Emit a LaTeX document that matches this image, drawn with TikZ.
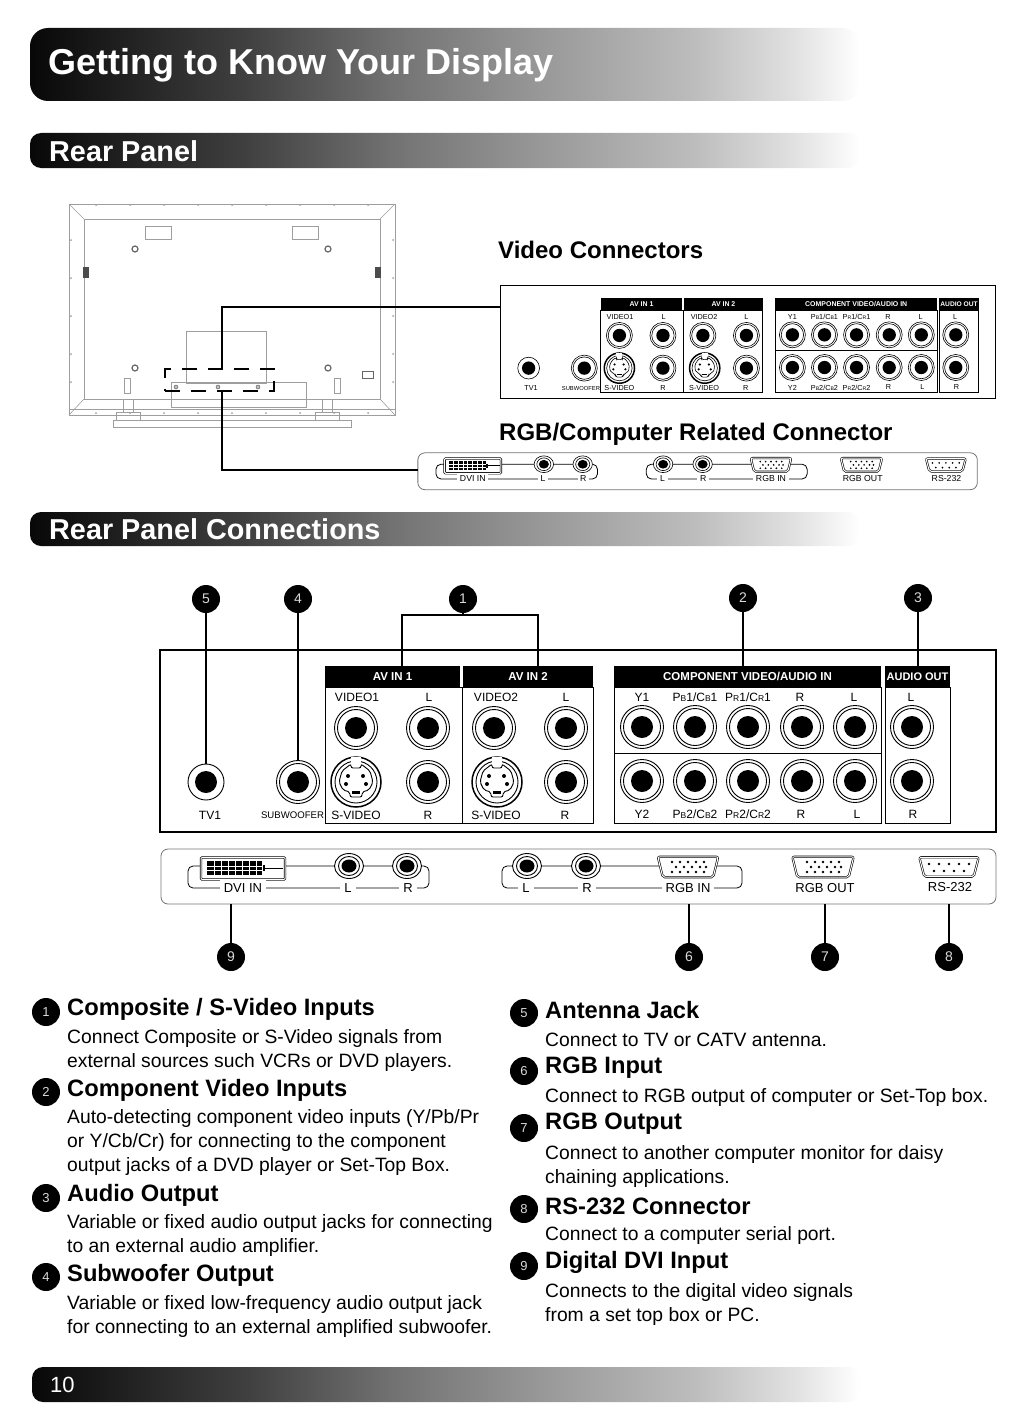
\documentclass[tikz,border=0pt]{standalone}
\usepackage{fontspec}
\setmainfont{Liberation Sans}
\usetikzlibrary{shapes.geometric,calc}
\definecolor{panelgray}{gray}{0.45}
\definecolor{tvgray}{gray}{0.62}
\definecolor{barA}{gray}{0.03}
\definecolor{barB}{gray}{0.10}
\definecolor{barC}{gray}{0.25}
\definecolor{barD}{gray}{0.45}
\definecolor{barE}{gray}{0.60}
\definecolor{barF}{gray}{0.74}
\definecolor{barG}{gray}{0.88}
\pgfdeclarehorizontalshading{barfade}{100bp}{color(0bp)=(barA); color(25bp)=(barA); color(29bp)=(barB); color(38bp)=(barC); color(47bp)=(barD); color(56bp)=(barE); color(65bp)=(barF); color(71bp)=(barG); color(75bp)=(white); color(100bp)=(white)}
\tikzset{
    jackline/.style={line width=0.9pt},
    rcajack/.style={circle, draw, jackline, fill=white, inner sep=0pt, outer sep=0pt, minimum size=43pt},
    tvjack/.style={rcajack, minimum size=36pt},
    svideojack/.style={rcajack, line width=1.5pt, minimum size=50pt},
    sidejack/.style={ellipse, draw, jackline, fill=white, inner sep=0pt, outer sep=0pt, minimum width=29pt, minimum height=25pt},
    headbox/.style={fill=black, text=white, inner sep=0pt, outer sep=0pt, font=\bfseries\fontsize{11.5}{12}\selectfont},
    portlabel/.style={inner sep=0pt, font=\fontsize{12}{12}\selectfont},
    wirelabel/.style={inner sep=4pt, fill=white, font=\fontsize{13}{13}\selectfont},
    dsub/.style={draw, double, double distance=1pt, line width=0.6pt, fill=white, rounded corners=2pt},
    callout/.style={circle, fill=black, text=white!85!black, inner sep=0pt, minimum size=28pt, font=\fontsize{14}{14}\selectfont},
    bullet/.style={circle, fill=black, text=white!85!black, inner sep=0pt, minimum size=28pt, font=\fontsize{13}{13}\selectfont},
    leader/.style={line width=1.7pt},
    barhead/.style={text=white, anchor=west, inner sep=0pt, font=\bfseries\fontsize{28.8}{29}\selectfont},
    itemhead/.style={anchor=west, inner sep=0pt, font=\bfseries\fontsize{23.7}{26}\selectfont},
    itembody/.style={anchor=west, align=left, inner sep=0pt, font=\fontsize{19.3}{24}\selectfont},
    tvline/.style={draw=tvgray, line width=0.6pt}
}
% RCA jack with ring and hole
\newcommand{\rca}[3]{%
    \node[rcajack] (#1) at (#2,#3) {};
    \draw[jackline] (#1.center) circle (18.5);
    \fill[black] (#1.center) circle (11);
}
% S-Video socket
\newcommand{\svideo}[3]{%
    \node[svideojack] (#1) at (#2,#3) {};
    \begin{scope}[shift={(#2,#3)}]
        \draw[jackline] (0,0) circle (21);
        \fill[white] (-5,-25) rectangle (5,-18);
        \draw[jackline, rounded corners=2pt] (-5,-18) -- (-5,-14) -- (5,-14) -- (5,-18) -- (14,-11) -- (17,0) -- (13,8) -- (6,10) -- (6,15) -- (-6,15) -- (-6,10) -- (-13,8) -- (-17,0) -- (-14,-11) -- cycle;
        \foreach \dx/\dy in {-8/-6, 7/-6, -10/2, 10/2} \fill (\dx,\dy) circle (2);
        \fill (-4,9) rectangle (4,11.5);
    \end{scope}
}
% small ellipse jack of the lower strip
\newcommand{\sidersa}[3]{%
    \node[sidejack] (#1) at (#2,#3) {};
    \draw[jackline] (#1.center) ellipse (10.5 and 9.5);
    \fill[black] (#1.center) ellipse (7.5 and 6.5);
}
\newcommand{\pb}[1]{{\fontsize{8.5}{9}\selectfont #1}}
% AV panel, used twice
\newcommand{\avpanel}{%
    \node[headbox, minimum width=135pt, minimum height=21pt] (avone) at (392.5,676.5) {AV IN 1};
    \node[headbox, minimum width=130pt, minimum height=21pt] (avtwo) at (528,676.5) {AV IN 2};
    \node[headbox, minimum width=267pt, minimum height=21pt] (comp) at (747.5,676.5) {COMPONENT VIDEO/AUDIO IN};
    \node[headbox, minimum width=65pt, minimum height=21pt, font=\bfseries\fontsize{11}{12}\selectfont] (audout) at (917.5,676.5) {AUDIO OUT};
    \draw[line width=0.9pt] (325,687) rectangle (593,823);
    \draw[line width=0.9pt] (462,687) -- (462,823);
    \draw[line width=0.9pt] (614,687) rectangle (881,823);
    \draw[line width=0.9pt] (614,753) -- (881,753);
    \draw[line width=0.9pt] (885,687) rectangle (950,823);
    \foreach \nm/\x/\y in {vone/356/728, lone/428/728, vtwo/494/728, ltwo/566/728, rone/428/782, rtwo/566/782, woofer/298/782, yone/642/727, pbone/695/727, prone/748/727, rcomp/802/727, lcomp/855/727, ytwo/642/781, pbtwo/695/781, prtwo/748/781, rcompb/802/781, lcompb/855/781, lout/912/727, rout/912/781}
        {\rca{\nm}{\x}{\y}}
    \node[tvjack] (tv) at (206,782) {};
    \fill[black] (tv.center) circle (11);
    \svideo{svone}{356}{782}
    \svideo{svtwo}{497}{782}
    \foreach \x/\y/\txt in {357/697/VIDEO1, 429/697/L, 496/697/VIDEO2, 566/697/L, 642/697/Y1, 695/697/{P\pb{B}1/C\pb{B}1}, 748/697/{P\pb{R}1/C\pb{R}1}, 800/697/R, 854/697/L, 911/697/L, 356/815/S-VIDEO, 428/815/R, 496/815/S-VIDEO, 565/815/R, 642/814/Y2, 695/814/{P\pb{B}2/C\pb{B}2}, 748/814/{P\pb{R}2/C\pb{R}2}, 801/814/R, 857/814/L, 913/814/R, 210/815/TV1}
        {\node[portlabel] at (\x,\y) {\txt};}
    \node[portlabel, font=\fontsize{9.6}{10}\selectfont] at (292.5,815) {SUBWOOFER};
}
% D-sub shell and its pins
\newcommand{\dsubshell}[6]{%
    \node[inner sep=0pt, minimum width=#4pt, minimum height=#5pt] (#1) at (#2,#3) {};
    \draw[dsub] (#1.north west) -- (#1.north east) -- ($(#1.south east)+(-5,0)$) -- ($(#1.south west)+(5,0)$) -- cycle;
    \foreach \dx/\dy in {#6} \fill (#1.center) ++(\dx,\dy) circle (1.4);
}
% RGB strip, used twice
\newcommand{\rgbstrip}{%
    \node[draw=panelgray, line width=0.8pt, rounded corners=7pt, minimum width=835pt, minimum height=55pt, inner sep=0pt] (strip) at (578.5,876.5) {};
    % wires first, jacks and labels on top
    \draw[line width=0.8pt, rounded corners=5pt] (200,866) -- (188,866) -- (188,888) -- (429,888) -- (429,866) -- (407,866) -- (200,866);
    \draw[line width=0.8pt, rounded corners=5pt] (527,866) -- (502,866) -- (502,888) -- (742,888) -- (742,866) -- (527,866);
    \node[draw, double, double distance=1pt, line width=0.7pt, fill=white, rounded corners=1pt, minimum width=84pt, minimum height=22pt, inner sep=0pt] (dvi) at (243,868.5) {};
    \fill[black] (207,861) rectangle (262,875);
    \foreach \x in {214,221,228,235,242,249,256} \fill[white] (\x,861) rectangle (\x+1,875);
    \foreach \y in {865.5,870} \fill[white] (207,\y) rectangle (262,\y+1);
    \fill[black] (263,865) rectangle (265,871);
    \draw[line width=0.6pt] (265,868) -- (283,868);
    \sidersa{dvil}{349}{866}
    \sidersa{dvir}{407}{866}
    \sidersa{rgbl}{527}{866}
    \sidersa{rgbr}{586}{866}
    \dsubshell{rgbin}{688}{867}{60}{20}{-16/-5,-8/-5,0/-5,8/-5,16/-5,-12/0,-4/0,4/0,12/0,18/0,-16/5,-8/5,0/5,8/5,16/5}
    \dsubshell{rgbout}{823}{867}{61}{20}{-16/-5,-8/-5,0/-5,8/-5,16/-5,-12/0,-4/0,4/0,12/0,18/0,-16/5,-8/5,0/5,8/5,16/5}
    \dsubshell{rs}{949}{867}{59}{19}{-20/-3,-10/-3,0/-3,10/-3,20/-3,-15/4,-5/4,5/4,15/4}
    \foreach \x/\txt in {243/DVI IN, 348/L, 408/R, 526/L, 587/R, 688/RGB IN}
        {\node[wirelabel] at (\x,888) {\txt};}
    \node[wirelabel] at (825,888) {RGB OUT};
    \node[wirelabel] at (950,887) {RS-232};
}
\begin{document}
\begin{tikzpicture}[x=1pt, y=-1pt, >=stealth]
    \useasboundingbox (0,0) rectangle (1034,1418);

    % Title bars
    \shade[shading=barfade, rounded corners=18pt] (30,28) rectangle (860,101);
    \shade[shading=barfade, rounded corners=11pt] (30,133) rectangle (860,168);
    \shade[shading=barfade, rounded corners=11pt] (30,512) rectangle (860,546);
    \shade[shading=barfade, rounded corners=11pt] (32,1367) rectangle (860,1402);
    \node[barhead, font=\bfseries\fontsize{36}{36}\selectfont] (title) at (48,65) {Getting to Know Your Display};
    \node[barhead] (rearhead) at (49,151) {Rear Panel};
    \node[barhead] (connhead) at (49,529) {Rear Panel Connections};
    \node[barhead, font=\fontsize{22}{22}\selectfont] (pagenum) at (50,1385) {10};

    % Display seen from behind
    \draw[tvline] (69,204) rectangle (395,415);
    \draw[tvline] (84,219) rectangle (380,399);
    \draw[tvline] (69,204) -- (84,219);
    \draw[tvline] (395,204) -- (380,219);
    \draw[tvline] (69,415) -- (84,399);
    \draw[tvline] (395,415) -- (380,399);
    \draw[tvline] (69,409) -- (395,409);
    \draw[tvline] (113,420) rectangle (351,427);
    \foreach \x in {116,315}
        {\draw[tvline] (\x,412) rectangle (\x+24,420);
         \draw[tvline] (\x+7,399) rectangle (\x+17,412);}
    \foreach \x in {145,292} \draw[tvline] (\x,226) rectangle (\x+26,239);
    \foreach \x/\y in {135/249, 328/249, 135/368, 328/368}
        {\draw[draw=black!60, line width=1.2pt, fill=white] (\x,\y) circle (3);}
    \foreach \x in {83,375} \fill[black!70] (\x,267) rectangle (\x+6,278);
    \foreach \x in {124,334} \draw[tvline] (\x,378) rectangle (\x+6,393);
    \draw[black!60, line width=0.6pt] (362,371) rectangle (373,378);
    \draw[tvline] (186,331) rectangle (266,383);
    \draw[tvline] (171,382) rectangle (306,407);
    \draw[tvline] (133,399) -- (171,399);
    \draw[tvline] (306,399) -- (333,399);
    \foreach \x in {96,130,164,198,232,266,300,334,368}
        {\fill[tvgray] (\x,205) circle (1); \fill[tvgray] (\x,413) circle (1);}
    \foreach \y in {240,278,316,354,382}
        {\fill[tvgray] (71,\y) circle (1); \fill[tvgray] (393,\y) circle (1);}
    \foreach \x in {176,218,258}
        {\draw[black!70, fill=black!25] (\x,387) circle (2);}

    % Area shown in the panels
    \node[draw, line width=1.7pt, dashed, dash pattern=on 15pt off 11pt, minimum width=109pt, minimum height=22pt, inner sep=0pt] (zone) at (219.5,380) {};
    \coordinate (upperbend) at (222,307);
    \coordinate (lowerbend) at (222,470);

    % Video connectors
    \node[anchor=west, inner sep=0pt, font=\bfseries\fontsize{24}{26}\selectfont] (videohead) at (498,250) {Video Connectors};
    \node[draw, line width=1pt, minimum width=495pt, minimum height=113pt, inner sep=0pt] (miniframe) at (747.5,341.5) {};
    \begin{scope}[name prefix=mini-, shift={(404,-105)}, scale=0.605, transform shape, jackline/.style={line width=0.6pt}]
        \avpanel
    \end{scope}

    % RGB connector
    \node[anchor=west, inner sep=0pt, font=\bfseries\fontsize{24}{26}\selectfont] (rgbhead) at (499,434) {RGB/Computer Related Connector};
    \begin{scope}[name prefix=mini-, shift={(310,-116)}, scale=0.67, transform shape, jackline/.style={line width=0.6pt}]
        \rgbstrip
    \end{scope}
    \draw[leader] (zone.north -| upperbend) -- (upperbend) -- (upperbend -| miniframe.west);
    \draw[leader] (zone.south -| lowerbend) -- (lowerbend) -- (lowerbend -| mini-strip.west);

    % Main panel
    \node[draw, line width=1.8pt, minimum width=836pt, minimum height=182pt, inner sep=0pt] (mainframe) at (578,741) {};
    \avpanel
    \rgbstrip

    % Callouts above the panel
    \node[callout] (call5) at (206,599) {5};
    \node[callout] (call4) at (298,599) {4};
    \node[callout] (call1) at (463,599) {1};
    \node[callout] (call2) at (743,598) {2};
    \node[callout] (call3) at (918,598) {3};
    \coordinate (bracketl) at (402,615);
    \coordinate (bracketr) at (538,615);
    \draw[leader] (call5) -- (tv.north);
    \draw[leader] (call4) -- (woofer.north);
    \draw[leader] (call1) -- (call1 |- bracketl);
    \draw[leader] (bracketl |- avone.north) -- (bracketl) -- (bracketr) -- (bracketr |- avtwo.north);
    \draw[leader] (call2) -- (call2 |- comp.north);
    \draw[leader] (call3) -- (call3 |- audout.north);

    % Callouts below the panel
    \node[callout] (call9) at (231,957) {9};
    \node[callout] (call6) at (689,957) {6};
    \node[callout] (call7) at (825,957) {7};
    \node[callout] (call8) at (949,957) {8};
    \foreach \n in {9,6,7,8}
        {\draw[leader] (call\n) -- (call\n |- strip.south);}

    % Left column
    \node[bullet] (item1) at (46,1012) {1};
    \node[itemhead] (head1) at (67,1009) {Composite / S-Video Inputs};
    \node[itembody] (body1) at (67,1050) {Connect Composite or S-Video signals from\\external sources such VCRs or DVD players.};
    \node[bullet] (item2) at (46,1092) {2};
    \node[itemhead] (head2) at (67,1090) {Component Video Inputs};
    \node[itembody] (body2) at (67,1142) {Auto-detecting component video inputs (Y/Pb/Pr\\or Y/Cb/Cr) for connecting to the component\\output jacks of a DVD player or Set-Top Box.};
    \node[bullet] (item3) at (46,1198) {3};
    \node[itemhead] (head3) at (67,1195) {Audio Output};
    \node[itembody] (body3) at (67,1235) {Variable or fixed audio output jacks for connecting\\to an external audio amplifier.};
    \node[bullet] (item4) at (46,1277) {4};
    \node[itemhead] (head4) at (67,1275) {Subwoofer Output};
    \node[itembody] (body4) at (67,1316) {Variable or fixed low-frequency audio output jack\\for connecting to an external amplified subwoofer.};

    % Right column
    \node[bullet] (item5) at (524,1013) {5};
    \node[itemhead] (head5) at (545,1010) {Antenna Jack};
    \node[itembody] (body5) at (545,1040) {Connect to TV or CATV antenna.};
    \node[bullet] (item6) at (524,1071) {6};
    \node[itemhead] (head6) at (545,1068) {RGB Input};
    \node[itembody] (body6) at (545,1097) {Connect to RGB output of computer or Set-Top box.};
    \node[bullet] (item7) at (524,1128) {7};
    \node[itemhead] (head7) at (545,1124) {RGB Output};
    \node[itembody] (body7) at (545,1166) {Connect to another computer monitor for daisy\\chaining applications.};
    \node[bullet] (item8) at (524,1209) {8};
    \node[itemhead] (head8) at (545,1206) {RS-232 Connector};
    \node[itembody] (body8) at (545,1235) {Connect to a computer serial port.};
    \node[bullet] (item9) at (524,1266) {9};
    \node[itemhead] (head9) at (545,1262) {Digital DVI Input};
    \node[itembody] (body9) at (545,1304) {Connects to the digital video signals\\from a set top box or PC.};
\end{tikzpicture}
\end{document}
